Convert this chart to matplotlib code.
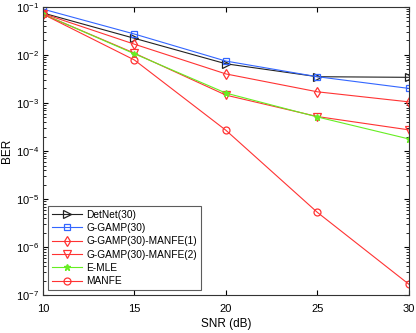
import numpy as np
import matplotlib
matplotlib.use("Agg")
from matplotlib import pyplot as plt
from matplotlib.ticker import NullFormatter

plt.rcParams['font.family'] = ['Liberation Sans', 'DejaVu Sans']
plt.rcParams['mathtext.fontset'] = 'custom'
plt.rcParams['mathtext.rm'] = 'Liberation Sans'

snr = [10, 15, 20, 25, 30]

detnet = [0.074, 0.022, 0.0065, 0.0035, 0.0034]
ggamp = [0.089, 0.027, 0.0074, 0.0035, 0.0020]
ggamp_manfe1 = [0.072, 0.0166, 0.0040, 0.0017, 0.00105]
ggamp_manfe2 = [0.070, 0.0108, 0.00145, 0.00052, 0.000275]
emle = [0.070, 0.0105, 0.0016, 0.00051, 0.000178]
manfe = [0.070, 0.0078, 0.00027, 5.3e-6, 1.7e-7]

labels = ['DetNet(30)', 'G-GAMP(30)', 'G-GAMP(30)-MANFE(1)',
          'G-GAMP(30)-MANFE(2)', 'E-MLE', 'MANFE']

fig = plt.figure(figsize=(4.16, 3.33), dpi=100)
ax = fig.add_axes([0.103, 0.113, 0.880, 0.867])

lw = 0.8
ax.semilogy(snr, detnet, color='#222222', marker='>', mfc='none', ms=5.5, mew=0.9, lw=lw, label=labels[0])
ax.semilogy(snr, ggamp, color='#3366ff', marker='s', mfc='none', ms=4, mew=0.9, lw=lw, label=labels[1])
ax.semilogy(snr, ggamp_manfe1, color='#ff3333', marker='d', mfc='none', ms=5.5, mew=0.9, lw=lw, label=labels[2])
ax.semilogy(snr, ggamp_manfe2, color='#ff3333', marker='v', mfc='none', ms=5.5, mew=0.9, lw=lw, label=labels[3])
ax.semilogy(snr, emle, color='#66ee22', marker='*', ms=4.5, lw=lw, label=labels[4])
ax.semilogy(snr, manfe, color='#ff3333', marker='o', mfc='none', ms=5, mew=0.9, lw=lw, label=labels[5])

ax.set_xlim(10, 30)
ax.set_ylim(1e-7, 1e-1)
ax.set_xticks([10, 15, 20, 25, 30])
ax.set_yticks([1e-7, 1e-6, 1e-5, 1e-4, 1e-3, 1e-2, 1e-1])
ax.yaxis.set_minor_formatter(NullFormatter())
ax.tick_params(which='both', direction='in', top=True, right=True, labelsize=8)
ax.tick_params(which='major', length=3.5)
ax.tick_params(which='minor', length=2)
ax.tick_params(axis='x', pad=6)
ax.tick_params(axis='y', pad=3)
for s in ax.spines.values():
    s.set_linewidth(0.8)
    s.set_color('#333333')
ax.set_xlabel('SNR (dB)', fontsize=8.5, labelpad=3)
ax.set_ylabel('BER', fontsize=8.5, labelpad=2)

leg = ax.legend(loc='lower left', fontsize=7.3, frameon=True, fancybox=False,
                edgecolor='#333333', borderaxespad=0.55, handlelength=3.0,
                labelspacing=0.33, borderpad=0.35, handletextpad=0.4)
leg.get_frame().set_linewidth(0.8)

fig.savefig('out.png', dpi=100)
